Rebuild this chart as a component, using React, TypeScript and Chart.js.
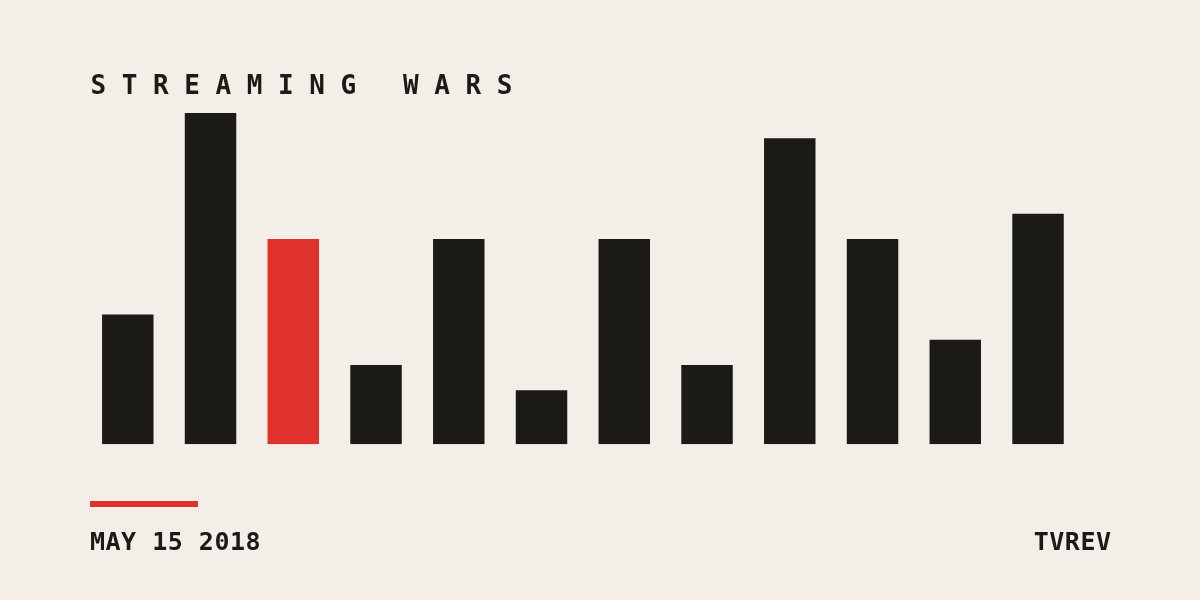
import React, { useEffect, useRef } from "react";
import { Chart, registerables } from "chart.js";

Chart.register(...registerables);

const categories = ["1", "2", "3", "4", "5", "6", "7", "8", "9", "10", "11", "12"];
const values = [5, 13, 8, 3, 8, 2, 8, 3, 12, 8, 4, 9];
const highlightIndex = 2;
const title = "STREAMING WARS";
const dateLabel = "MAY 15 2018";
const sourceLabel = "TVREV";
const Y_MIN = -0.143;
const Y_MAX = 13;

const BG = "#f3eee7";
const INK = "#1b1a17";
const RED = "#e0322c";
const FONT = "'DejaVu Sans Mono', 'Liberation Mono', monospace";

export default function App() {
  const canvasRef = useRef<HTMLCanvasElement | null>(null);

  useEffect(() => {
    const canvas = canvasRef.current;
    if (!canvas) return;
    const chart = new Chart(canvas, {
      type: "bar",
      data: {
        labels: categories,
        datasets: [
          {
            data: values,
            base: Y_MIN,
            backgroundColor: values.map((_, i) => (i === highlightIndex ? RED : INK)),
            borderWidth: 0,
            barPercentage: 0.622,
            categoryPercentage: 1,
          } as any,
        ],
      },
      options: {
        responsive: false,
        animation: false,
        maintainAspectRatio: false,
        layout: { padding: { left: 86.4, right: 120.6, top: 113, bottom: 155.8 } },
        plugins: { legend: { display: false }, tooltip: { enabled: false }, title: { display: false } },
        scales: {
          x: { display: false, grid: { display: false } },
          y: { display: false, min: Y_MIN, max: Y_MAX, grid: { display: false } },
        },
      },
    });
    return () => chart.destroy();
  }, []);

  return (
    <div style={{ position: "fixed", left: 0, top: 0, width: 1200, height: 600, background: BG, overflow: "hidden" }}>
      <canvas ref={canvasRef} width={1200} height={600} style={{ position: "absolute", left: 0, top: 0, width: 1200, height: 600 }} />
      <div
        style={{
          position: "absolute",
          left: 90.5,
          top: 72.3,
          fontFamily: FONT,
          fontWeight: "bold",
          fontSize: 26,
          lineHeight: "26px",
          letterSpacing: "15.6px",
          color: INK,
          whiteSpace: "pre",
        }}
      >
        {title}
      </div>
      <div style={{ position: "absolute", left: 90, top: 501, width: 108, height: 6, background: RED }} />
      <div
        style={{
          position: "absolute",
          left: 90,
          top: 528.9,
          fontFamily: FONT,
          fontWeight: "bold",
          fontSize: 25,
          lineHeight: "25px",
          letterSpacing: "0.5px",
          color: INK,
          whiteSpace: "pre",
        }}
      >
        {dateLabel}
      </div>
      <div
        style={{
          position: "absolute",
          right: 88.5,
          top: 528.9,
          fontFamily: FONT,
          fontWeight: "bold",
          fontSize: 25,
          lineHeight: "25px",
          letterSpacing: "0.5px",
          color: INK,
          whiteSpace: "pre",
          textAlign: "right",
        }}
      >
        {sourceLabel}
      </div>
    </div>
  );
}
